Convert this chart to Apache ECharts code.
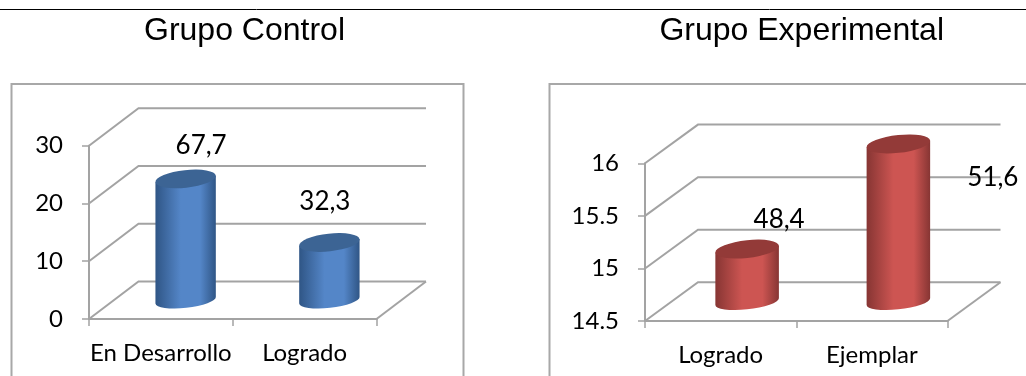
<!DOCTYPE html>
<html>
<head>
<meta charset="utf-8">
<style>html,body{margin:0;padding:0;background:#fff}#chart{width:1026px;height:376px}</style>
<script src="https://cdn.jsdelivr.net/npm/echarts@6/dist/echarts.min.js"></script>
</head>
<body>
<div id="chart"></div>
<script>
// Student counts per achievement level in each group
const controlCategories = ['En Desarrollo', 'Logrado'];
const controlValues = [21, 10];
const controlTicks = [0, 10, 20, 30];
const experimentalCategories = ['Logrado', 'Ejemplar'];
const experimentalValues = [15, 16];
const experimentalTicks = [14.5, 15, 15.5, 16];

// Labels state each count as a percentage of its group, with a decimal comma
function percentLabels(values) {
  const total = values.reduce((a, b) => a + b, 0);
  return values.map(v => (v / total * 100).toFixed(1).replace('.', ','));
}

const LABEL_FONT = 'Lato, "Open Sans", sans-serif';
const WALL = '#a3a3a3';

const palettes = {
  blue: { edge: '#2f5585', mid: '#5486c8', top: '#3c6494' },
  red: { edge: '#863533', mid: '#cd5552', top: '#933a38' }
};

// Depth of the simulated 3D box, and where each value label sits relative to its cylinder top
const layouts = [
  { depth: [49.5, -37.5], labelShift: [[15.5, -33], [-4.5, -41]], palette: palettes.blue },
  { depth: [53, -38.7], labelShift: [[32, -29], [94.5, 34]], palette: palettes.red }
];

// One tick's wall line: a diagonal up the side wall, then across the back wall
function wallLine(layout) {
  return function (params, api) {
    const cs = params.coordSys;
    const [dx, dy] = layout.depth;
    const p = api.coord([0, api.value(1)]);
    return {
      type: 'polyline',
      shape: { points: [[cs.x, p[1]], [cs.x + dx, p[1] + dy], [cs.x + cs.width + dx, p[1] + dy]] },
      style: { fill: null, stroke: WALL, lineWidth: 2 }
    };
  };
}

// The open right-hand edge of the floor
function floorEdge(layout) {
  return function (params, api) {
    const cs = params.coordSys;
    const [dx, dy] = layout.depth;
    const y = cs.y + cs.height;
    return {
      type: 'line',
      shape: { x1: cs.x + cs.width, y1: y, x2: cs.x + cs.width + dx, y2: y + dy },
      style: { stroke: WALL, lineWidth: 2 }
    };
  };
}

// A tilted cylinder standing mid-way into the depth of the box
function cylinder(layout, labels) {
  return function (params, api) {
    const [dx, dy] = layout.depth;
    const idx = api.value(0);
    const top = api.coord([idx, api.value(1)]);
    const cs = params.coordSys;
    const cx = top[0] + dx / 2;
    const ty = top[1] + dy / 2;
    const by = cs.y + cs.height + dy / 2;
    const rx = api.size([1, 0])[0] * 0.21;
    const ry = 8.8;
    const baseRy = 7.6;
    const tilt = 3.3;
    const spin = -6.3;
    const pal = layout.palette;
    const arc = (r, sweep, x, y) => 'A' + rx + ' ' + r + ' ' + spin + ' 0 ' + sweep + ' ' + x + ' ' + y;
    const body = 'M' + (cx - rx) + ' ' + (ty + tilt) +
      'L' + (cx - rx) + ' ' + (by + tilt) +
      arc(baseRy, 0, cx + rx, by - tilt) +
      'L' + (cx + rx) + ' ' + (ty - tilt) +
      'Z';
    const cap = 'M' + (cx - rx) + ' ' + (ty + tilt) +
      arc(ry, 1, cx + rx, ty - tilt) +
      arc(ry, 1, cx - rx, ty + tilt) + 'Z';
    const shift = layout.labelShift[idx];
    return {
      type: 'group',
      children: [
        {
          type: 'path',
          shape: { pathData: body },
          style: {
            fill: {
              type: 'linear', x: 0, y: 0, x2: 1, y2: 0,
              colorStops: [
                { offset: 0, color: pal.edge },
                { offset: 0.42, color: pal.mid },
                { offset: 0.74, color: pal.mid },
                { offset: 1, color: pal.edge }
              ]
            }
          }
        },
        {
          type: 'path',
          shape: { pathData: cap },
          style: { fill: pal.top }
        },
        {
          type: 'text',
          style: {
            text: labels[idx],
            x: cx + shift[0],
            y: ty + shift[1],
            align: 'center',
            verticalAlign: 'middle',
            font: '26px ' + LABEL_FONT,
            fill: '#000'
          },
          z2: 10
        }
      ]
    };
  };
}

function panelSeries(i, values, ticks) {
  const layout = layouts[i];
  const labels = percentLabels(values);
  return [
    {
      type: 'custom', xAxisIndex: i, yAxisIndex: i, z: 1, silent: true, clip: false,
      data: ticks.map(t => [0, t]), encode: { x: 0, y: 1 },
      renderItem: wallLine(layout)
    },
    {
      type: 'custom', xAxisIndex: i, yAxisIndex: i, z: 1, silent: true, clip: false,
      data: [[0, ticks[0]]], encode: { x: 0, y: 1 },
      renderItem: floorEdge(layout)
    },
    {
      type: 'custom', xAxisIndex: i, yAxisIndex: i, z: 3, silent: true, clip: false,
      data: values.map((v, k) => [k, v]), encode: { x: 0, y: 1 },
      renderItem: cylinder(layout, labels)
    }
  ];
}

function xAxis(gridIndex, categories) {
  return {
    type: 'category', gridIndex, data: categories, boundaryGap: true,
    axisLine: { show: true, lineStyle: { color: WALL, width: 2 } },
    axisTick: { show: true, length: 7, alignWithLabel: false, lineStyle: { color: WALL, width: 1.5 } },
    axisLabel: { color: '#000', fontSize: 24, fontFamily: LABEL_FONT, margin: 22, interval: 0 }
  };
}

function yAxis(gridIndex, ticks, interval) {
  return {
    type: 'value', gridIndex, min: ticks[0], max: ticks[ticks.length - 1], interval,
    axisLine: { show: true, lineStyle: { color: WALL, width: 2 } },
    axisTick: { show: true, length: 7, lineStyle: { color: WALL, width: 1.5 } },
    splitLine: { show: false },
    axisLabel: { color: '#000', fontSize: 24, fontFamily: LABEL_FONT, margin: 26 }
  };
}

const TITLE_STYLE = { fontFamily: '"Liberation Sans", Arial, sans-serif', fontSize: 32, fontWeight: 'normal', color: '#000' };

const option = {
  animation: false,
  backgroundColor: '#fff',
  title: [
    { text: 'Grupo Control', left: 239.5, top: 10, textAlign: 'center', textStyle: TITLE_STYLE },
    { text: 'Grupo Experimental', left: 796.7, top: 10, textAlign: 'center', textStyle: TITLE_STYLE }
  ],
  grid: [
    { left: 89, top: 145.7, width: 287.5, height: 173.3, containLabel: false },
    { left: 645, top: 163.3, width: 302.5, height: 157.7, containLabel: false }
  ],
  xAxis: [xAxis(0, controlCategories), xAxis(1, experimentalCategories)],
  yAxis: [yAxis(0, controlTicks, 10), yAxis(1, experimentalTicks, 0.5)],
  series: [
    ...panelSeries(0, controlValues, controlTicks),
    ...panelSeries(1, experimentalValues, experimentalTicks)
  ],
  graphic: [
    { type: 'line', silent: true, z: 0, shape: { x1: 0, y1: 9.5, x2: 1026, y2: 9.5 }, style: { stroke: '#000', lineWidth: 1 } },
    { type: 'rect', silent: true, z: 0, shape: { x: 11.5, y: 84, width: 452, height: 320 }, style: { fill: null, stroke: '#a8a8a8', lineWidth: 2 } },
    { type: 'rect', silent: true, z: 0, shape: { x: 549.5, y: 84, width: 500, height: 320 }, style: { fill: null, stroke: '#a8a8a8', lineWidth: 2 } }
  ]
};

echarts.init(document.getElementById('chart')).setOption(option);
</script>
</body>
</html>
